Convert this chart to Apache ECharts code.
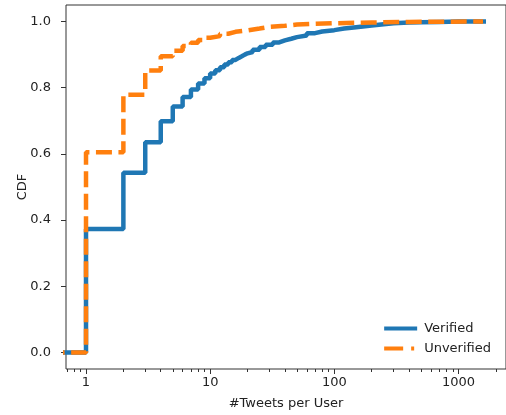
<!DOCTYPE html>
<html>
<head>
<meta charset="utf-8">
<script src="https://cdn.jsdelivr.net/npm/echarts@6/dist/echarts.min.js"></script>
<style>
  html, body { margin: 0; padding: 0; background: #fff; }
  #main { width: 506px; height: 415px; }
</style>
</head>
<body>
<div id="main"></div>
<script>
// tweets per user (x) and cumulative share (y)
var verifiedX   = [0.5, 1, 2, 3, 4, 5, 6, 7, 8, 9, 10, 11, 12, 13, 14, 15, 16, 17, 18, 19, 20,
                   22, 25, 28, 32, 36, 40, 45, 50, 60, 70, 80, 100, 120, 150, 200, 250, 300, 400, 500, 700, 1000, 1668];
var verifiedCdf = [0, 0.373, 0.543, 0.635, 0.699, 0.743, 0.772, 0.795, 0.813, 0.829, 0.843, 0.853, 0.862, 0.870, 0.877, 0.884, 0.890, 0.895, 0.900, 0.904, 0.908,
                   0.915, 0.923, 0.930, 0.937, 0.943, 0.948, 0.953, 0.958, 0.965, 0.970, 0.974, 0.979, 0.983, 0.988, 0.992, 0.995, 0.997, 0.998, 0.999, 1.0, 1.0, 1.0];

var unverifiedX   = [0.5, 1, 2, 3, 4, 5, 6, 7, 8, 9, 10, 12, 14, 16, 20, 25, 30, 40, 50, 70, 100, 200, 400, 1578];
var unverifiedCdf = [0, 0.605, 0.779, 0.852, 0.895, 0.912, 0.926, 0.936, 0.944, 0.951, 0.956, 0.963, 0.969, 0.973, 0.979, 0.984, 0.987, 0.991, 0.993, 0.995, 0.997, 0.999, 1.0, 1.0];

var xMajorTicks = [1, 10, 100, 1000];
var xMinorTicks = [0.7, 0.8, 0.9, 2, 3, 4, 5, 6, 7, 8, 9, 20, 30, 40, 50, 60, 70, 80, 90,
                   200, 300, 400, 500, 600, 700, 800, 900, 2000];
var yTicks = [0, 0.2, 0.4, 0.6, 0.8, 1.0];

var xMin = 0.69, xMax = 2416;

function pairs(xs, ys) {
    var out = [];
    for (var i = 0; i < xs.length; i++) out.push([xs[i], ys[i]]);
    return out;
}
function logs(arr) {
    return arr.map(function (v) { return Math.log10(v); });
}

var font = 'DejaVu Sans';
var solidIcon  = 'path://M0,0H33V4H0Z';
var dashedIcon = 'path://M0,0H19V4H0Z M27,0H30V4H27Z M33,0L33,4';

var chart = echarts.init(document.getElementById('main'));

var opt = {
    animation: false,
    grid: {
        left: 66, top: 5, width: 446, height: 365,
        show: true, borderColor: '#333', borderWidth: 1, backgroundColor: 'transparent'
    },
    legend: {
        data: [
            { name: 'Verified', icon: solidIcon },
            { name: 'Unverified', icon: dashedIcon }
        ],
        orient: 'vertical',
        right: 10, top: 317,
        itemWidth: 33, itemHeight: 4, itemGap: 7,
        textStyle: { fontFamily: font, fontSize: 13, color: '#222', padding: [0, 0, 0, 2] }
    },
    xAxis: [
        {   // log axis that carries the data
            type: 'log', logBase: 10, min: xMin, max: xMax,
            position: 'bottom',
            axisLine: { show: false, onZero: false }, axisTick: { show: false },
            axisLabel: { show: false }, splitLine: { show: false }
        },
        {   // major ticks + labels (log10 space)
            type: 'value', min: Math.log10(xMin), max: Math.log10(xMax),
            position: 'bottom',
            name: '#Tweets per User', nameLocation: 'middle', nameGap: 28, nameMoveOverlap: false,
            nameTextStyle: { fontFamily: font, fontSize: 13, color: '#222' },
            axisLine: { show: false, onZero: false },
            axisTick: { show: true, length: 5, customValues: logs(xMajorTicks), lineStyle: { color: '#333' } },
            axisLabel: {
                customValues: logs(xMajorTicks), margin: 7,
                fontFamily: font, fontSize: 13, color: '#222',
                formatter: function (v) { return String(Math.round(Math.pow(10, v))); }
            },
            splitLine: { show: false }
        },
        {   // minor ticks
            type: 'value', min: Math.log10(xMin), max: Math.log10(xMax),
            position: 'bottom',
            axisLine: { show: false, onZero: false },
            axisTick: { show: true, length: 3, customValues: logs(xMinorTicks), lineStyle: { color: '#333' } },
            axisLabel: { show: false },
            splitLine: { show: false }
        }
    ],
    yAxis: {
        type: 'value', min: -0.05, max: 1.05,
        name: 'CDF', nameLocation: 'middle', nameGap: 37, nameMoveOverlap: false,
        nameTextStyle: { fontFamily: font, fontSize: 13, color: '#222' },
        axisLine: { show: false, onZero: false },
        axisTick: { show: true, length: 5, customValues: yTicks, lineStyle: { color: '#333' } },
        axisLabel: {
            customValues: yTicks, margin: 15,
            fontFamily: font, fontSize: 13, color: '#222',
            formatter: function (v) { return v.toFixed(1); }
        },
        splitLine: { show: false }
    },
    series: [
        {
            name: 'Verified', type: 'line', xAxisIndex: 0, step: 'end',
            symbol: 'none', data: pairs(verifiedX, verifiedCdf),
            itemStyle: { color: '#1f77b4' },
            lineStyle: { color: '#1f77b4', width: 4.5, cap: 'butt' }
        },
        {
            name: 'Unverified', type: 'line', xAxisIndex: 0, step: 'end',
            symbol: 'none', data: pairs(unverifiedX, unverifiedCdf),
            itemStyle: { color: '#ff7f0e' },
            lineStyle: { color: '#ff7f0e', width: 4.5, type: [16, 6.5], cap: 'butt' }
        }
    ]
};

chart.setOption(opt);
</script>
</body>
</html>
